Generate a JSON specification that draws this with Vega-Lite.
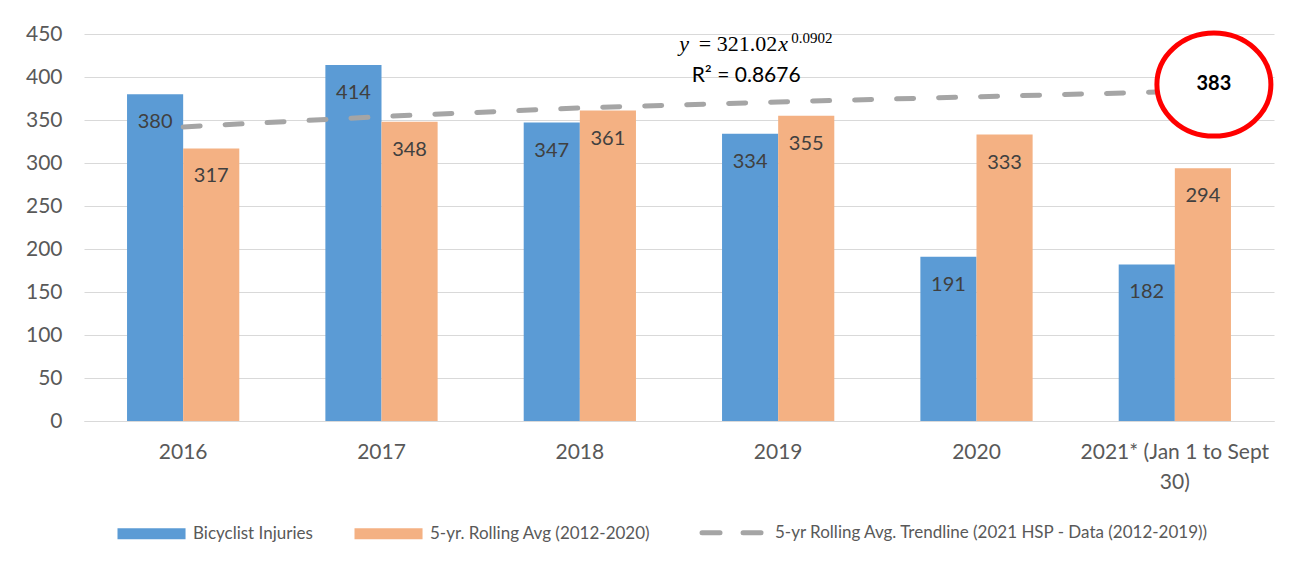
{
  "$schema": "https://vega.github.io/schema/vega-lite/v6.json",
  "width": 1190,
  "height": 387,
  "autosize": "none",
  "padding": {"left": 84, "top": 34, "right": 25, "bottom": 144},
  "background": "white",
  "config": {
    "view": {"stroke": null},
    "font": "Lato",
    "axis": {"labelFont": "Lato", "labelColor": "#595959", "labelFontSize": 21, "gridColor": "#D9D9D9", "ticks": false, "labelLimit": 400}
  },
  "datasets": {
    "bars": [
      {"year": "2016", "series": "Bicyclist Injuries", "value": 380},
      {"year": "2016", "series": "5-yr. Rolling Avg (2012-2020)", "value": 317},
      {"year": "2017", "series": "Bicyclist Injuries", "value": 414},
      {"year": "2017", "series": "5-yr. Rolling Avg (2012-2020)", "value": 348},
      {"year": "2018", "series": "Bicyclist Injuries", "value": 347},
      {"year": "2018", "series": "5-yr. Rolling Avg (2012-2020)", "value": 361},
      {"year": "2019", "series": "Bicyclist Injuries", "value": 334},
      {"year": "2019", "series": "5-yr. Rolling Avg (2012-2020)", "value": 355},
      {"year": "2020", "series": "Bicyclist Injuries", "value": 191},
      {"year": "2020", "series": "5-yr. Rolling Avg (2012-2020)", "value": 333},
      {"year": "2021* (Jan 1 to Sept 30)", "series": "Bicyclist Injuries", "value": 182},
      {"year": "2021* (Jan 1 to Sept 30)", "series": "5-yr. Rolling Avg (2012-2020)", "value": 294}
    ],
    "trend": [
      {"year": "2016", "series": "5-yr Rolling Avg. Trendline (2021 HSP - Data (2012-2019))", "value": 342},
      {"year": "2017", "series": "5-yr Rolling Avg. Trendline (2021 HSP - Data (2012-2019))", "value": 354},
      {"year": "2018", "series": "5-yr Rolling Avg. Trendline (2021 HSP - Data (2012-2019))", "value": 364},
      {"year": "2019", "series": "5-yr Rolling Avg. Trendline (2021 HSP - Data (2012-2019))", "value": 371},
      {"year": "2020", "series": "5-yr Rolling Avg. Trendline (2021 HSP - Data (2012-2019))", "value": 377},
      {"year": "2021* (Jan 1 to Sept 30)", "series": "5-yr Rolling Avg. Trendline (2021 HSP - Data (2012-2019))", "value": 383}
    ]
  },
  "encoding": {
    "x": {
      "field": "year", "type": "nominal", "sort": null,
      "scale": {"domain": ["2016", "2017", "2018", "2019", "2020", "2021* (Jan 1 to Sept 30)"], "paddingInner": 0.434, "paddingOuter": 0.217},
      "axis": {"title": null, "labelAngle": 0, "domainColor": "#D9D9D9", "labelPadding": 20, "labelLineHeight": 30,
               "labelExpr": "datum.value == '2021* (Jan 1 to Sept 30)' ? ['2021* (Jan 1 to Sept', '30)'] : datum.value"}
    },
    "y": {
      "field": "value", "type": "quantitative",
      "scale": {"domain": [0, 450], "nice": false},
      "axis": {"title": null, "values": [0, 50, 100, 150, 200, 250, 300, 350, 400, 450], "domain": false, "labelPadding": 22}
    }
  },
  "layer": [
    {
      "data": {"name": "bars"},
      "mark": {"type": "bar"},
      "encoding": {
        "xOffset": {"field": "series", "type": "nominal", "sort": null, "scale": {"domain": ["Bicyclist Injuries", "5-yr. Rolling Avg (2012-2020)"]}},
        "color": {
          "field": "series", "type": "nominal",
          "scale": {"domain": ["Bicyclist Injuries", "5-yr. Rolling Avg (2012-2020)", "5-yr Rolling Avg. Trendline (2021 HSP - Data (2012-2019))"],
                    "range": ["#5B9BD5", "#F4B183", "#A5A5A5"]},
          "legend": {
            "orient": "none", "legendX": 37, "legendY": 490, "direction": "horizontal", "title": null,
            "labelFont": "Lato", "labelFontSize": 17, "labelColor": "#595959", "labelLimit": 800,
            "symbolSize": 576, "labelOffset": 55, "columnPadding": 41,
            "encode": {
              "symbols": {"update": {
                "shape": {"signal": "datum.value === 'Bicyclist Injuries' || datum.value === '5-yr. Rolling Avg (2012-2020)' ? 'M-1,-0.46H4.67V0.46H-1Z' : 'M-0.79,0H0.71M2.63,0H4.13'"},
                "fill": {"signal": "datum.value === 'Bicyclist Injuries' ? '#5B9BD5' : datum.value === '5-yr. Rolling Avg (2012-2020)' ? '#F4B183' : 'transparent'"},
                "stroke": {"signal": "datum.value === 'Bicyclist Injuries' || datum.value === '5-yr. Rolling Avg (2012-2020)' ? 'transparent' : '#A5A5A5'"},
                "strokeWidth": {"signal": "datum.value === 'Bicyclist Injuries' || datum.value === '5-yr. Rolling Avg (2012-2020)' ? 0 : 5"},
                "strokeCap": {"value": "round"},
                "opacity": {"value": 1}
              }}
            }
          }
        }
      }
    },
    {
      "data": {"name": "bars"},
      "mark": {"type": "text", "dy": 28, "baseline": "middle", "fontSize": 20, "color": "#404040", "font": "Lato"},
      "encoding": {
        "xOffset": {"field": "series", "type": "nominal", "sort": null, "scale": {"domain": ["Bicyclist Injuries", "5-yr. Rolling Avg (2012-2020)"]}},
        "text": {"field": "value", "type": "quantitative"}
      }
    },
    {
      "data": {"name": "trend"},
      "mark": {"type": "line", "strokeWidth": 5, "strokeDash": [17, 25], "strokeCap": "round"},
      "encoding": {
        "color": {"field": "series", "type": "nominal"}
      }
    },
    {
      "data": {"values": [{"year": "2021* (Jan 1 to Sept 30)", "series": "5-yr. Rolling Avg (2012-2020)", "value": 383}]},
      "mark": {"type": "point", "shape": "M-0.92,-0.14A1.14,1.03 0 1,0 1.36,-0.14A1.14,1.03 0 1,0 -0.92,-0.14Z", "size": 10000, "filled": true, "fill": "#FFFFFF", "stroke": "#FF0000", "strokeWidth": 5, "opacity": 1, "fillOpacity": 1, "strokeOpacity": 1},
      "encoding": {
        "xOffset": {"field": "series", "type": "nominal", "scale": {"domain": ["Bicyclist Injuries", "5-yr. Rolling Avg (2012-2020)"]}}
      }
    },
    {
      "data": {"values": [{"year": "2021* (Jan 1 to Sept 30)", "series": "5-yr. Rolling Avg (2012-2020)", "value": 383}]},
      "mark": {"type": "text", "fontSize": 20, "fontWeight": "bold", "color": "#000000", "font": "Lato", "baseline": "middle", "dx": 11, "dy": -8},
      "encoding": {
        "xOffset": {"field": "series", "type": "nominal", "scale": {"domain": ["Bicyclist Injuries", "5-yr. Rolling Avg (2012-2020)"]}},
        "text": {"field": "value", "type": "quantitative"}
      }
    },
    {
      "data": {"values": [{"year": "2019", "value": 438, "label": "y"}]},
      "mark": {"type": "text", "fontSize": 22, "font": "Liberation Serif", "fontStyle": "italic", "color": "#000000", "baseline": "middle", "align": "left", "dx": -99},
      "encoding": {"text": {"field": "label", "type": "nominal"}}
    },
    {
      "data": {"values": [{"year": "2019", "value": 438, "label": "= 321.02"}]},
      "mark": {"type": "text", "fontSize": 22, "font": "Liberation Serif", "color": "#000000", "baseline": "middle", "align": "right", "dx": -1},
      "encoding": {"text": {"field": "label", "type": "nominal"}}
    },
    {
      "data": {"values": [{"year": "2019", "value": 438, "label": "x"}]},
      "mark": {"type": "text", "fontSize": 22, "font": "Liberation Serif", "fontStyle": "italic", "color": "#000000", "baseline": "middle", "align": "left", "dx": 0},
      "encoding": {"text": {"field": "label", "type": "nominal"}}
    },
    {
      "data": {"values": [{"year": "2019", "value": 445, "label": "0.0902"}]},
      "mark": {"type": "text", "fontSize": 15, "font": "Liberation Serif", "color": "#000000", "baseline": "middle", "align": "left", "dx": 13},
      "encoding": {"text": {"field": "label", "type": "nominal"}}
    },
    {
      "data": {"values": [{"year": "2019", "value": 401, "label": "R² = 0.8676"}]},
      "mark": {"type": "text", "fontSize": 21, "font": "Lato", "color": "#000000", "baseline": "middle", "align": "center", "dx": -32},
      "encoding": {"text": {"field": "label", "type": "nominal"}}
    }
  ]
}
